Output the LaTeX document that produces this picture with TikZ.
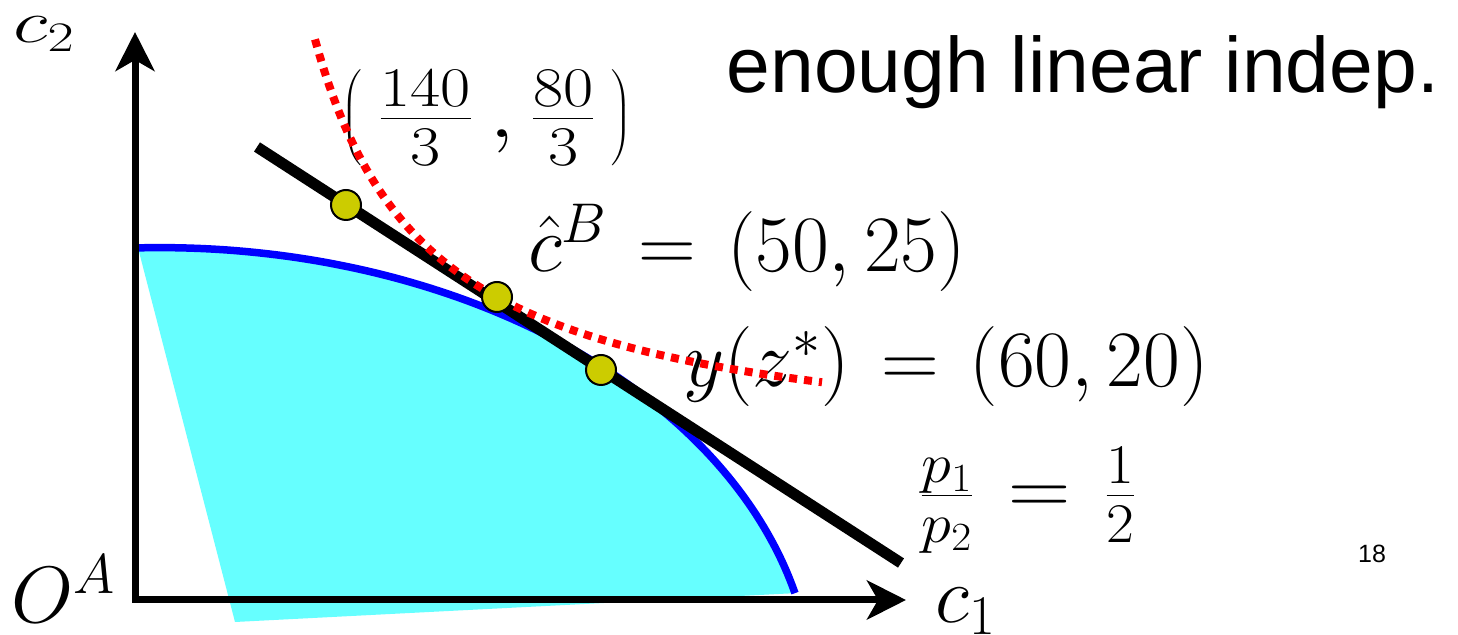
\RequirePackage{fix-cm}
\documentclass[tikz,border=0pt]{standalone}
\usepackage{fontspec}
\usepackage{graphicx}
\newfontfamily\arialfont{Liberation Sans}
\usetikzlibrary{arrows.meta}
\definecolor{fillcyan}{HTML}{66FFFF}
\definecolor{dotyellow}{HTML}{CCCC00}
\tikzset{
  axisline/.style={line width=3.5pt,
    {Stealth[length=19.5pt,width=19.5pt,inset=5.5pt]}-{Stealth[length=19.5pt,width=19.5pt,inset=5.5pt]}},
  frontier/.style={draw=blue, line width=3.75pt},
  budget/.style={draw=black, line width=5.5pt},
  indiff/.style={draw=red, line width=4pt, dash pattern=on 4pt off 3.5pt},
  dotnode/.style={circle, draw=black, line width=1pt, fill=dotyellow, minimum size=15pt, inner sep=0pt},
  mathlab/.style={inner sep=0pt, font=\fontsize{40}{48}\selectfont},
  textlab/.style={inner sep=0pt, font=\arialfont\fontsize{39.3}{46}\selectfont},
  pagelab/.style={inner sep=0pt, font=\arialfont\fontsize{12.5}{15}\selectfont},
}
\begin{document}
\begin{tikzpicture}[x=0.5pt, y=-0.5pt]
\useasboundingbox (0,0) rectangle (1458,635);
% feasible set
\fill[fillcyan] plot[domain=91.93:13.66, samples=90, variable=\t] ({160+653.5*cos(\t)}, {700-452.4*sin(\t)}) -- (235,622) -- cycle;
\draw[frontier] plot[domain=91.93:13.66, samples=90, variable=\t] ({160+653.5*cos(\t)}, {700-452.4*sin(\t)});
% axes
\coordinate (ytip) at (135,32);
\coordinate (origin) at (135,600);
\coordinate (xtip) at (906,600);
\draw[axisline] (ytip) -- (origin) -- (xtip);
% budget line
\coordinate (bstart) at (257,147);
\coordinate (bend) at (901,563);
\draw[budget] (bstart) -- (bend);
% labels
\node[anchor=base west, inner sep=0pt] (c2) at (13,43) {\scalebox{1.35}[1]{\fontsize{30}{36}\selectfont$c_2$}};
\node[mathlab, anchor=base west] (OA) at (11,623) {$O^A$};
\node[mathlab, anchor=base west] (c1) at (935,623) {$c_1$};
\node[mathlab] (p140) at (487,118) {\scalebox{1.17}[1]{$\left(\,\frac{140}{3}\,,\frac{80}{3}\,\right)$}};
\node[mathlab, anchor=base] (cB) at (747,272) {$\hat{c}^B \mkern2mu = \mkern2mu (50,25)$};
\node[mathlab, anchor=base] (yz) at (946,387) {$y(z^*) \mkern2mu = \mkern2mu (60,20)$};
\node[mathlab, anchor=base] (ratio) at (1028,515) {\scalebox{1.08}[1]{$\frac{p_1}{p_2} \mkern2mu = \mkern2mu \frac{1}{2}$}};
\node[textlab, anchor=base] (title) at (1083,93) {enough linear indep.};
\node[pagelab, anchor=base] (pnum) at (1372,563) {18};
% indifference curve
\draw[indiff] plot[domain=315:822, samples=120] (\x, {460-483.7/((\x-200)/100)});
% points
\node[dotnode] (d1) at (346,205) {};
\node[dotnode] (d2) at (497,297) {};
\node[dotnode] (d3) at (601,370) {};
\end{tikzpicture}
\end{document}
